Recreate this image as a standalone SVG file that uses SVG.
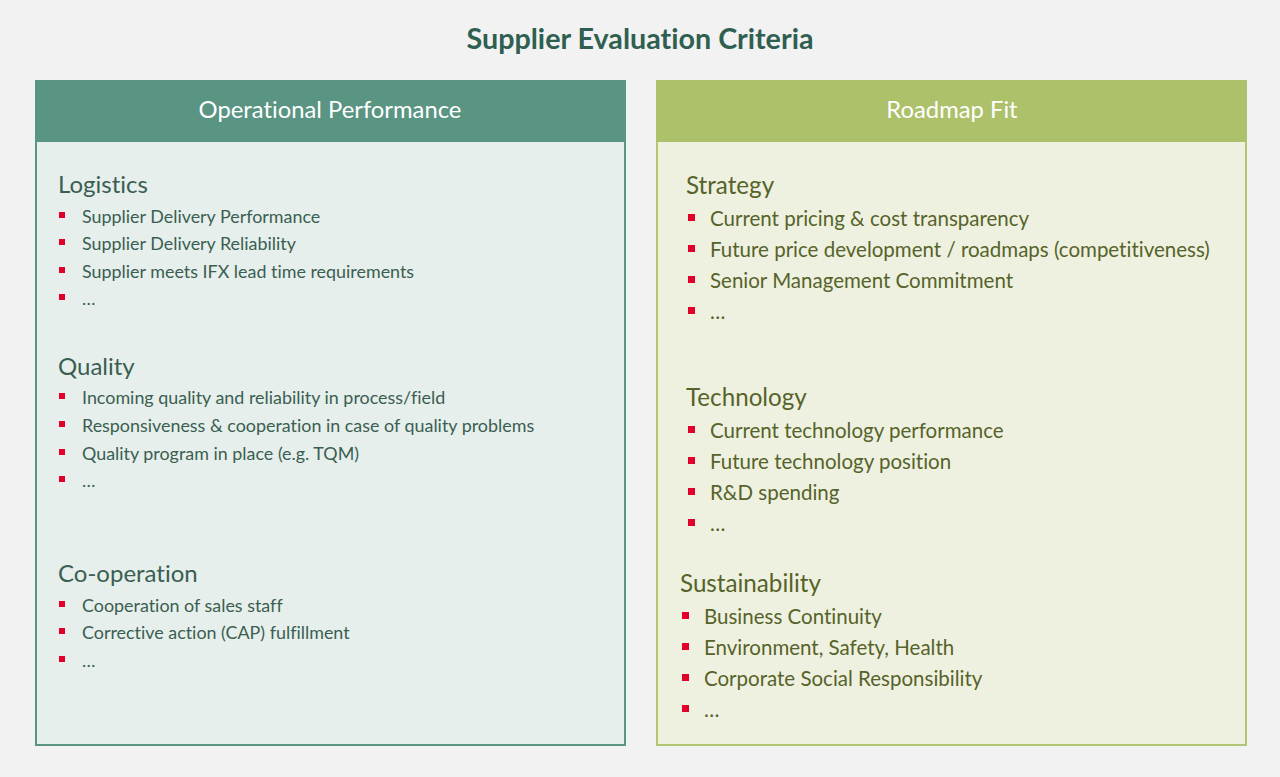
<svg xmlns="http://www.w3.org/2000/svg" width="1280" height="777" viewBox="0 0 1280 777">
<style>
text{font-family:"Lato","Open Sans",sans-serif;font-variant-ligatures:none}
.title{font-size:28.7px;font-weight:bold;fill:#2f5f50;text-anchor:middle}
.hdr{font-size:23.8px;fill:#ffffff;text-anchor:middle}
.lh{font-size:24px;fill:#3b5e52}
.li{font-size:17.9px;fill:#3b5e52}
.rh{font-size:24.2px;fill:#56632a}
.ri{font-size:20.5px;fill:#56632a}
.b{fill:#e2002a}
</style>
<rect width="1280" height="777" fill="#f2f2f2"/>
<text class="title" x="640" y="49">Supplier Evaluation Criteria</text>
<g id="operational">
<rect x="36" y="81" width="589" height="664" fill="#e6efeb" stroke="#5a9482" stroke-width="2"/>
<rect x="35" y="80" width="591" height="62" fill="#5a9482"/>
<text class="hdr" x="330" y="118">Operational Performance</text>
<text class="lh" x="58" y="193">Logistics</text>
<rect class="b" x="59" y="212" width="6" height="6"/><text class="li" x="82" y="223">Supplier Delivery Performance</text>
<rect class="b" x="59" y="239" width="6" height="6"/><text class="li" x="82" y="250">Supplier Delivery Reliability</text>
<rect class="b" x="59" y="267" width="6" height="6"/><text class="li" x="82" y="278">Supplier meets IFX lead time requirements</text>
<rect class="b" x="59" y="294" width="6" height="6"/><text class="li" x="82" y="305">…</text>
<text class="lh" x="58" y="375">Quality</text>
<rect class="b" x="59" y="393" width="6" height="6"/><text class="li" x="82" y="404">Incoming quality and reliability in process/field</text>
<rect class="b" x="59" y="421" width="6" height="6"/><text class="li" x="82" y="432">Responsiveness &amp; cooperation in case of quality problems</text>
<rect class="b" x="59" y="449" width="6" height="6"/><text class="li" x="82" y="460">Quality program in place (e.g. TQM)</text>
<rect class="b" x="59" y="476" width="6" height="6"/><text class="li" x="82" y="487">…</text>
<text class="lh" x="58" y="582">Co-operation</text>
<rect class="b" x="59" y="601" width="6" height="6"/><text class="li" x="82" y="612">Cooperation of sales staff</text>
<rect class="b" x="59" y="628" width="6" height="6"/><text class="li" x="82" y="639">Corrective action (CAP) fulfillment</text>
<rect class="b" x="59" y="656" width="6" height="6"/><text class="li" x="82" y="667">…</text>
</g>
<g id="roadmap">
<rect x="657" y="81" width="589" height="664" fill="#eff1e0" stroke="#b3c674" stroke-width="2"/>
<rect x="656" y="80" width="591" height="62" fill="#adc06a"/>
<text class="hdr" x="952" y="118">Roadmap Fit</text>
<text class="rh" x="686" y="194">Strategy</text>
<rect class="b" x="688" y="214" width="7" height="7"/><text class="ri" x="710" y="226">Current pricing &amp; cost transparency</text>
<rect class="b" x="688" y="245" width="7" height="7"/><text class="ri" x="710" y="257">Future price development / roadmaps (competitiveness)</text>
<rect class="b" x="688" y="276" width="7" height="7"/><text class="ri" x="710" y="288">Senior Management Commitment</text>
<rect class="b" x="688" y="307" width="7" height="7"/><text class="ri" x="710" y="319">…</text>
<text class="rh" x="686" y="406">Technology</text>
<rect class="b" x="688" y="426" width="7" height="7"/><text class="ri" x="710" y="438">Current technology performance</text>
<rect class="b" x="688" y="457" width="7" height="7"/><text class="ri" x="710" y="469">Future technology position</text>
<rect class="b" x="688" y="488" width="7" height="7"/><text class="ri" x="710" y="500">R&amp;D spending</text>
<rect class="b" x="688" y="519" width="7" height="7"/><text class="ri" x="710" y="531">…</text>
<text class="rh" x="680" y="592">Sustainability</text>
<rect class="b" x="682" y="612" width="7" height="7"/><text class="ri" x="704" y="624">Business Continuity</text>
<rect class="b" x="682" y="643" width="7" height="7"/><text class="ri" x="704" y="655">Environment, Safety, Health</text>
<rect class="b" x="682" y="674" width="7" height="7"/><text class="ri" x="704" y="686">Corporate Social Responsibility</text>
<rect class="b" x="682" y="705" width="7" height="7"/><text class="ri" x="704" y="717">…</text>
</g>
</svg>
